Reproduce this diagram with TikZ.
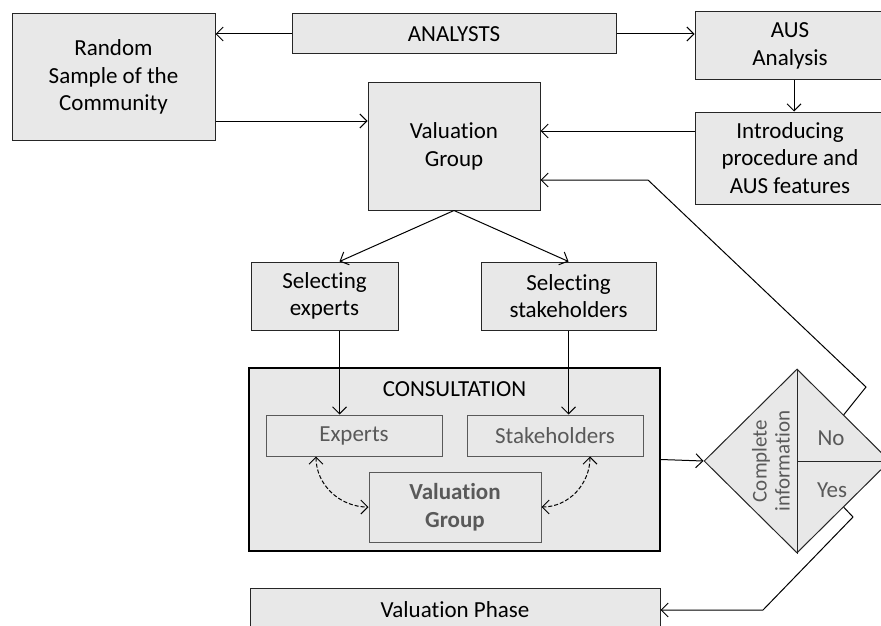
\documentclass[tikz,border=0pt]{standalone}
\usepackage{fontspec}
\setmainfont{Carlito}[Ligatures=NoCommon]
\usetikzlibrary{arrows.meta,shapes.geometric}
\definecolor{boxgray}{HTML}{E8E8E8}
\definecolor{txtgray}{HTML}{595959}

\begin{document}
\begin{tikzpicture}[x=1pt,y=-1pt]
 \tikzstyle{boite}=[draw=black!85,fill=boxgray,line width=1pt,align=center,inner sep=0pt,font=\fontsize{23}{27.5}\selectfont]
 \tikzstyle{petite}=[boite,draw=txtgray,text=txtgray]
 \tikzstyle{fleche}=[-{Straight Barb[length=7pt,width=14pt]},line width=1pt]
 \tikzstyle{pointille}=[{Straight Barb[length=7pt,width=14pt]}-{Straight Barb[length=7pt,width=14pt]},dash pattern=on 4pt off 2pt,line width=1pt]
 \useasboundingbox (0,0) rectangle (881,626);
 \node[boite,minimum width=203pt,minimum height=126pt] (rand) at (113.5,77) {Random\\Sample of the\\Community};
 \node[boite,minimum width=324pt,minimum height=40pt] (analysts) at (454,34) {ANALYSTS};
 \node[boite,minimum width=190pt,minimum height=68pt] (ausan) at (790,46) {AUS\\Analysis};
 \node[boite,minimum width=190pt,minimum height=92pt] (intro) at (790,158) {Introducing\\procedure and\\AUS features};
 \node[boite,minimum width=172pt,minimum height=127pt] (vg) at (454,146.5) {Valuation\\Group};
 \node[boite,minimum width=147pt,minimum height=68pt] (selexp) at (324.5,296) {Selecting\\experts};
 \node[boite,minimum width=175pt,minimum height=68pt] (selsta) at (568.5,296) {Selecting\\stakeholders};
 \node[boite,line width=1.2pt,draw=black,minimum width=411pt,minimum height=183pt] (consult) at (454.5,459.5) {};
 \node[font=\fontsize{23}{27.5}\selectfont] (constitle) at (454.5,389) {CONSULTATION};
 \node[petite,minimum width=176pt,minimum height=41pt] (experts) at (354,435.5) {Experts};
 \node[petite,minimum width=176pt,minimum height=41pt] (stake) at (555,435.5) {Stakeholders};
 \node[petite,minimum width=172pt,minimum height=70pt,font=\fontsize{23}{27.5}\selectfont\bfseries] (vgin) at (455,507) {Valuation\\Group};
 \node[boite,shape=diamond,minimum width=186pt,minimum height=184pt] (dia) at (797,461) {};
 \node[boite,minimum width=410pt,minimum height=44pt] (phase) at (455,610) {Valuation Phase};
 % decision labels
 \draw[line width=1pt,black!85] (dia.north) -- (dia.south);
 \draw[line width=1pt,black!85] (dia.center) -- (dia.east);
 \node[text=txtgray,align=center,rotate=90,font=\fontsize{21}{23}\selectfont] (complete) at (771,461) {Complete\\information};
 \node[text=txtgray,font=\fontsize{23}{27.5}\selectfont] (no) at (831,438) {No};
 \node[text=txtgray,font=\fontsize{23}{27.5}\selectfont] (yes) at (832,490) {Yes};
 % arrows
 \draw[fleche] (analysts.west) -- (analysts.west -| rand.east);
 \draw[fleche] (analysts.east) -- (analysts.east -| ausan.west);
 \draw[fleche] ([xshift=4pt]ausan.south) -- ([xshift=4pt]ausan.south |- intro.north);
 \draw[fleche] (rand.east |- 0,121) -- (vg.west |- 0,121);
 \draw[fleche] (intro.west |- 0,131) -- (vg.east |- 0,131);
 \draw[fleche] (vg.south) -- ([xshift=15pt]selexp.north);
 \draw[fleche] (vg.south) -- (selsta.north);
 \draw[fleche] ([xshift=15pt]selexp.south) -- ([xshift=15pt]selexp.south |- experts.north);
 \draw[fleche] (selsta.south) -- (selsta.south |- stake.north);
 \draw[pointille] ([xshift=-38pt]experts.south) to[out=-90,in=180] (vgin.west);
 \draw[pointille] ([xshift=35pt]stake.south) to[out=-90,in=0] (vgin.east);
 \draw[fleche] (consult.east) -- (dia.west);
 \coordinate (nob) at (866,387);
 \coordinate (noc) at (648,180);
 \draw[fleche] (dia.north east) -- (nob) -- (noc) -- (noc -| vg.east);
 \coordinate (yesb) at (853,517);
 \coordinate (yesc) at (763,610);
 \draw[fleche] (dia.south east) -- (yesb) -- (yesc) -- (phase.east);
\end{tikzpicture}
\end{document}
